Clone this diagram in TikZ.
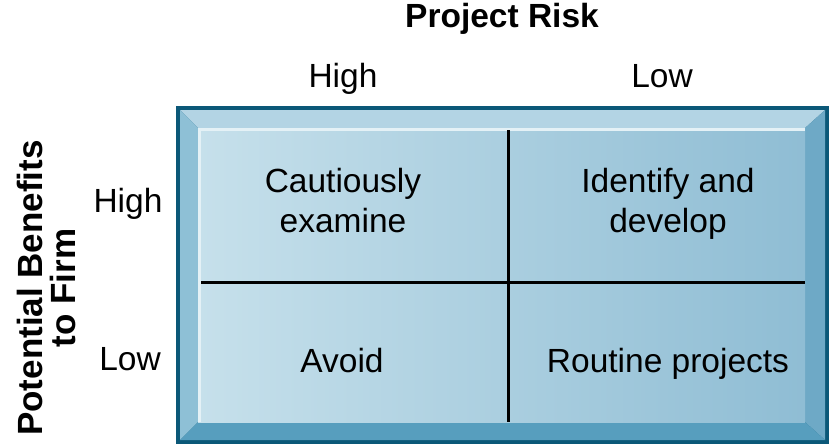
\documentclass[tikz,border=0pt]{standalone}
\usepackage{fontspec}
\setmainfont{Liberation Sans}
\definecolor{frameDark}{HTML}{0B5878}
\definecolor{bevTop}{HTML}{B3D4E4}
\definecolor{bevLeft}{HTML}{8EC0D6}
\definecolor{bevRight}{HTML}{6EA9C6}
\definecolor{bevBot}{HTML}{579EBE}
\definecolor{faceL}{HTML}{C6E0EB}
\definecolor{faceR}{HTML}{8FBDD4}
\definecolor{hilite}{HTML}{E4F1F6}
\begin{document}
\begin{tikzpicture}[x=1pt,y=-1pt,
  lbl/.style={font=\fontsize{33.5}{40}\selectfont, align=center, inner sep=0pt, anchor=base},
  head/.style={font=\fontsize{33.5}{38}\selectfont\bfseries, align=center, inner sep=0pt, anchor=base},
  sidehead/.style={font=\fontsize{35}{33}\selectfont\bfseries, align=center, inner sep=0pt},
  gridline/.style={line width=3pt, black}]
\useasboundingbox (0,0) rectangle (829,444);
% frame
\fill[frameDark] (176,106) rectangle (829,444);
\fill[bevTop] (180,110) -- (825,110) -- (805,128) -- (198,128) -- cycle;
\fill[bevLeft] (180,110) -- (198,128) -- (198,422) -- (180,440) -- cycle;
\fill[bevRight] (825,110) -- (825,440) -- (805,422) -- (805,128) -- cycle;
\fill[bevBot] (180,440) -- (198,422) -- (805,422) -- (825,440) -- cycle;
\shade[left color=faceL, right color=faceR] (198,128) rectangle (805,422);
\draw[hilite, line width=3pt] (199.5,422) -- (199.5,129.5) -- (805,129.5);
% grid
\draw[gridline] (508,130) -- (508,422);
\draw[gridline] (201,282) -- (805,282);
% headings
\node[head] (risk) at (502,28) {Project Risk};
\node[lbl] (hh) at (343,87) {High};
\node[lbl] (hl) at (662,87) {Low};
\node[lbl] (vh) at (128,212) {High};
\node[lbl] (vl) at (130,370) {Low};
\node[sidehead, rotate=90] (ben) at (46,288) {Potential Benefits\\to Firm};
% cells
\node[lbl] (c1) at (343,232) {Cautiously\\examine};
\node[lbl] (c2) at (668,232) {Identify and\\develop};
\node[lbl] (c3) at (342,372) {Avoid};
\node[lbl] (c4) at (668,372) {Routine projects};
\end{tikzpicture}
\end{document}
